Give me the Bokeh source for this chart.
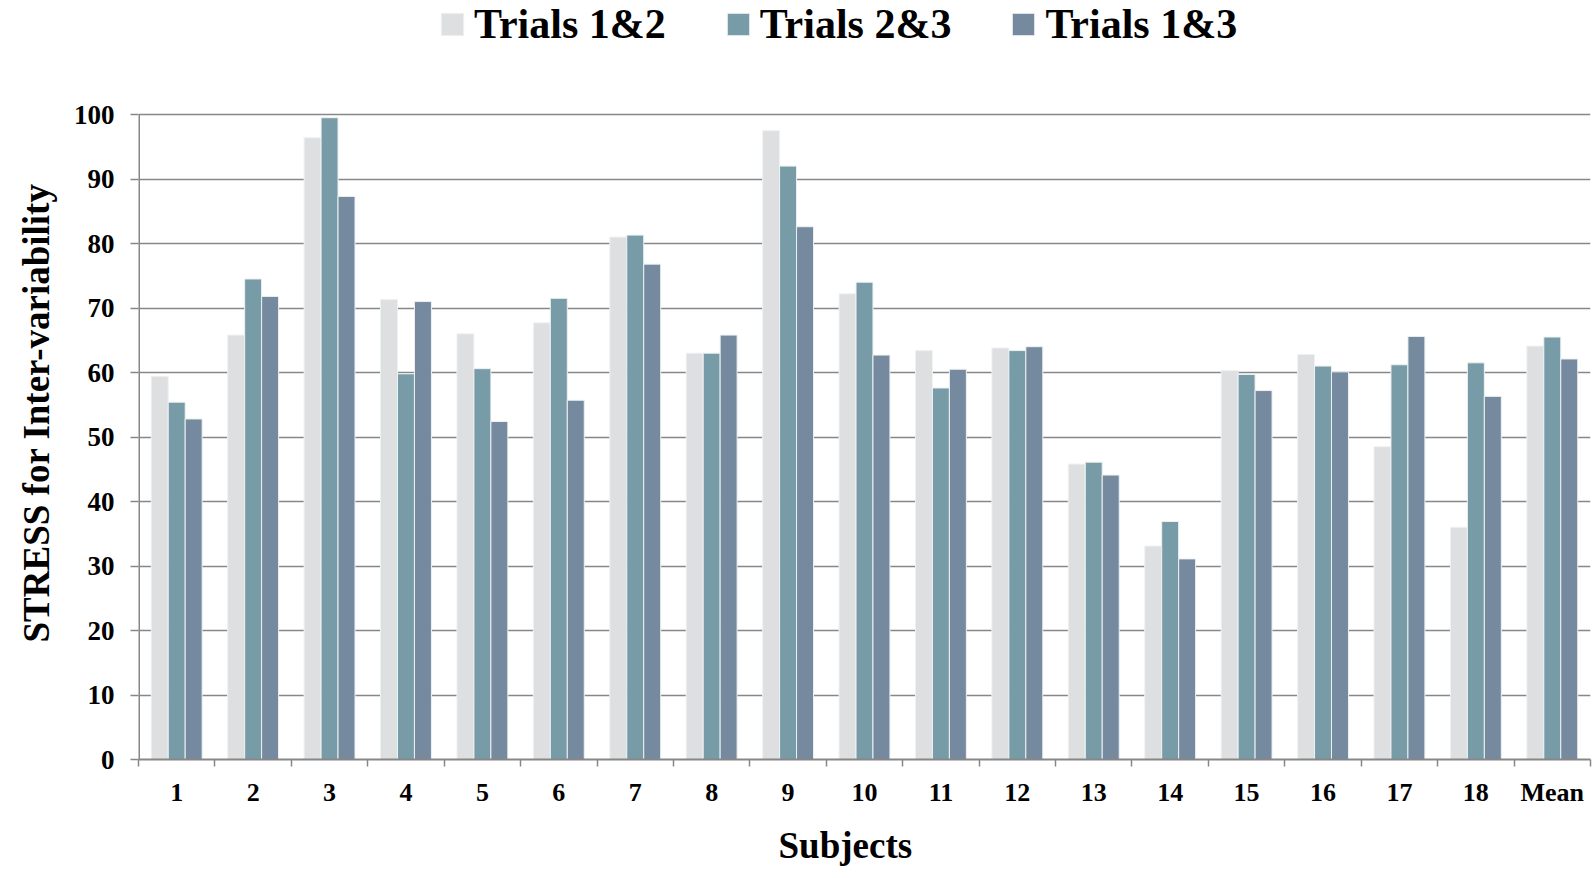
import numpy as np
from bokeh.plotting import figure
from bokeh.models import (ColumnDataSource, Range1d, FixedTicker, Legend,
                          LegendItem, Title)
from bokeh.embed import file_html
from bokeh.resources import INLINE

# ---------------- data ----------------
subjects = ["1", "2", "3", "4", "5", "6", "7", "8", "9", "10", "11", "12",
            "13", "14", "15", "16", "17", "18", "Mean"]
trials_12 = [59.4, 65.8, 96.4, 71.3, 66.0, 67.7, 81.0, 63.0, 97.5, 72.2,
             63.4, 63.8, 45.8, 33.1, 60.3, 62.8, 48.5, 36.0, 64.1]
trials_23 = [55.4, 74.5, 99.5, 59.8, 60.6, 71.5, 81.3, 63.0, 92.0, 74.0,
             57.6, 63.4, 46.1, 36.9, 59.7, 61.0, 61.2, 61.5, 65.5]
trials_13 = [52.8, 71.8, 87.3, 71.0, 52.4, 55.7, 76.8, 65.8, 82.6, 62.7,
             60.5, 64.0, 44.1, 31.1, 57.2, 60.1, 65.6, 56.3, 62.1]
series_names = ["Trials 1&2", "Trials 2&3", "Trials 1&3"]
y_ticks = [0, 10, 20, 30, 40, 50, 60, 70, 80, 90, 100]
x_title = "Subjects"
y_title = "STRESS for Inter-variability"

# ---------------- style / layout ----------------
colors = ["#DEDFE1", "#789CA7", "#75899F"]
FONT = "Liberation Serif"
GRID = "#878787"
W, H = 1593, 878
BL, BR, BB = 137, 3, 119
TOP_GAP = 114                      # px from top of page to the "100" line
frame_h = H - BB                   # frame reaches the top so the legend fits
y_end = y_ticks[-1] * frame_h / (frame_h - TOP_GAP)

p = figure(width=W, height=H, output_backend="svg", toolbar_location=None,
           x_range=Range1d(0, len(subjects)), y_range=Range1d(0, y_end),
           min_border_left=BL, min_border_right=BR,
           min_border_top=0, min_border_bottom=BB)
p.outline_line_color = None
p.background_fill_color = "white"

centers = np.arange(len(subjects)) + 0.5
bw = 0.222
offsets = [-bw, 0.0, bw]
renderers = []
for vals, off, c in zip([trials_12, trials_23, trials_13], offsets, colors):
    src = ColumnDataSource(dict(x=centers + off, top=vals))
    r = p.vbar(x="x", top="top", bottom=0, width=bw, source=src,
               fill_color=c, line_color="#eef1f3", line_width=1)
    renderers.append(r)

# y axis line only over the value scale (0..100)
p.line(x=[0, 0], y=[y_ticks[0], y_ticks[-1]], line_color=GRID, line_width=3)

# ---------------- axes ----------------
xa = p.xaxis[0]
xa.ticker = FixedTicker(ticks=[float(c) for c in centers],
                        minor_ticks=list(range(len(subjects) + 1)))
xa.major_label_overrides = {float(c): s for c, s in zip(centers, subjects)}
xa.major_tick_line_color = None
xa.major_tick_out = 0
xa.major_tick_in = 0
xa.minor_tick_out = 7
xa.minor_tick_in = 0
xa.minor_tick_line_color = GRID
xa.minor_tick_line_width = 1.5
xa.axis_line_color = GRID
xa.axis_line_width = 2
xa.major_label_text_font = FONT
xa.major_label_text_font_style = "bold"
xa.major_label_text_font_size = "26px"
xa.major_label_text_color = "black"
xa.major_label_standoff = 11

ya = p.yaxis[0]
ya.ticker = FixedTicker(ticks=y_ticks)
ya.minor_tick_line_color = None
ya.major_tick_out = 8
ya.major_tick_in = 0
ya.major_tick_line_color = GRID
ya.major_tick_line_width = 1.5
ya.axis_line_color = None
ya.major_label_text_font = FONT
ya.major_label_text_font_style = "bold"
ya.major_label_text_font_size = "27px"
ya.major_label_text_color = "black"
ya.major_label_standoff = 16

p.xgrid.visible = False
p.ygrid.ticker = FixedTicker(ticks=y_ticks)
p.ygrid.grid_line_color = GRID
p.ygrid.grid_line_width = 1.5

# ---------------- axis titles (as side-panel titles, offset like the reference)
p.add_layout(Title(text=y_title, align="left", offset=117, standoff=27,
                   text_font=FONT, text_font_style="bold",
                   text_font_size="37px", text_color="black"), "left")
p.add_layout(Title(text=x_title, align="left", offset=640, standoff=26,
                   text_font=FONT, text_font_style="bold",
                   text_font_size="37px", text_color="black"), "below")

# ---------------- legend ----------------
legend = Legend(items=[LegendItem(label=n, renderers=[r])
                       for n, r in zip(series_names, renderers)],
                orientation="horizontal", location=(300, frame_h - 48),
                padding=0, margin=0, spacing=58, label_standoff=8,
                glyph_width=28, glyph_height=28,
                label_text_font=FONT, label_text_font_style="bold",
                label_text_font_size="42px", label_text_color="black",
                border_line_color=None, background_fill_alpha=0)
p.add_layout(legend)

open("out.html", "w").write(file_html(p, INLINE))
